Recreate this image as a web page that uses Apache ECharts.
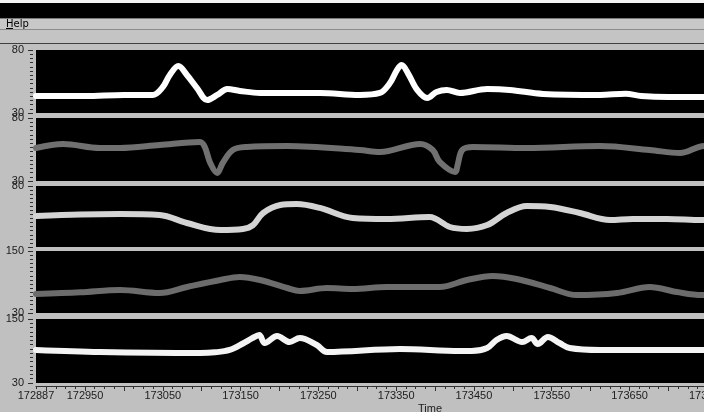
<!DOCTYPE html>
<html><head><meta charset="utf-8">
<script src="https://cdn.jsdelivr.net/npm/echarts@6/dist/echarts.min.js"></script>
<style>html,body{margin:0;padding:0;background:#c0c0c0;overflow:hidden}#c{width:704px;height:412px}</style>
</head><body><div id="c"></div>
<script>
// ---- data ----
const xMin = 172887, xMax = 173900;
const xLabelValues = [172887,172950,173050,173150,173250,173350,173450,173550,173650,173750,173850];
const xMajorTickValues = [172900,172950,173000,173050,173100,173150,173200,173250,173300,173350,173400,173450,173500,173550,173600,173650,173700,173750,173800,173850,173900];
const panelMin = [30,30,30,30,30];
const panelMax = [80,80,80,150,150];
const panelLabelValues = [[30,80],[30,80],[80],[30,150],[30,150]];

const times1 = [172887,172950,173000,173037,173050,173059,173070,173081,173094,173107,173120,173133,173149,173175,173252,173303,173329,173342,173351,173357,173365,173377,173390,173402,173415,173432,173467,173496,173539,173612,173645,173665,173700,173746,173900];
const values1 = [43.5,43.5,44.3,44.3,50.6,60.2,67.3,60.2,49.8,40.3,44.3,49.0,47.5,45.9,45.9,44.3,45.9,53.8,64.1,68.1,61.7,48.3,41.9,46.7,48.3,45.9,49.0,48.3,45.1,44.3,45.3,43.5,42.7,42.7,43.0];

const times2 = [172887,172922,172969,172995,173046,173098,173104,173111,173120,173127,173140,173158,173210,173303,173329,173381,173397,173406,173426,173429,173435,173449,173518,173612,173676,173715,173746,173900];
const values2 = [56.2,59.4,56.2,56.2,58.6,61.0,57.0,44.3,36.3,44.3,54.6,57.0,57.8,54.6,53.0,59.4,54.6,45.1,37.1,42.7,54.6,57.0,56.2,57.8,54.6,52.2,57.8,58.0];

const times3 = [172887,172944,172995,173046,173081,173124,173153,173166,173179,173201,173222,173252,173294,173338,173393,173419,173441,173467,173492,173518,173548,173586,173625,173654,173698,173743,173900];
const values3 = [55.4,56.6,57.0,56.2,49.7,43.9,44.8,48.0,57.9,64.4,65.2,62.0,53.8,53.0,54.6,46.4,44.8,48.0,57.9,63.6,62.8,57.9,52.1,53.0,53.0,52.1,52.0];

const times4 = [172887,172944,172995,173046,173081,173124,173149,173175,173210,173226,173261,173294,173338,173381,173406,173441,173474,173505,173548,173582,173634,173676,173711,173743,173900];
const values4 = [66.8,70.0,74.5,68.7,80.3,93.9,99.7,93.9,78.4,72.6,78.4,76.5,80.3,80.3,80.3,93.9,101.6,95.8,78.4,64.8,68.7,80.3,70.6,64.8,66.0];

const times5 = [172887,172969,173098,173117,173136,173153,173165,173174,173181,173197,173213,173226,173248,173261,173355,173432,173447,173467,173479,173492,173512,173524,173532,173545,173560,173573,173612,173676,173746,173900];
const values5 = [91.9,88.1,86.2,87.5,92.0,104.0,114.0,120.0,105.0,118.1,106.9,114.4,101.2,88.1,93.7,90.0,90.0,95.6,110.6,118.1,106.9,114.4,103.1,116.2,105.0,95.6,91.9,91.9,91.9,92.0];

const allTimes = [times1,times2,times3,times4,times5];
const allValues = [values1,values2,values3,values4,values5];

// ---- layout / style ----
const gridTops = [50,118,186,251,319];
const gridHeights = [63,63,61,62,64];
const lineColors = ['#ffffff','#707070','#d4d4d4','#6c6c6c','#f4f4f4'];
const minorDiv = 15;
const labelFont = {fontFamily:'Liberation Sans, Arial, sans-serif', fontSize:11, color:'#202020'};

const grids = [], xAxes = [], yAxes = [], series = [];
for (let i = 0; i < 5; i++) {
  grids.push({left:36, right:-120, top:gridTops[i], height:gridHeights[i], show:true, backgroundColor:'#000', borderWidth:0, containLabel:false, outerBoundsMode:'none'});
  const isBottom = i === 4;
  xAxes.push({
    type:'value', gridIndex:i, min:xMin, max:xMax, show:isBottom, position:'bottom', offset:3,
    axisLine:{show:true, lineStyle:{color:'#303030', width:1}},
    axisTick:{show:true, customValues:xMajorTickValues, length:5, lineStyle:{color:'#303030'}},
    axisLabel:{show:true, customValues:xLabelValues, margin:4, ...labelFont, formatter:v=>String(v)},
    splitLine:{show:false},
    name: isBottom ? 'Time' : '', nameLocation:'middle', nameGap:17,
    nameTextStyle:{fontFamily:'Liberation Sans, Arial, sans-serif', fontSize:11, color:'#202020'}
  });
  const mn = panelMin[i], mx = panelMax[i];
  yAxes.push({
    type:'value', gridIndex:i, min:mn, max:mx, position:'left', offset:3,
    axisLine:{show:false},
    axisTick:{show:true, customValues:[mn,mx], length:5, lineStyle:{color:'#303030'}},
    axisLabel:{show:true, customValues:panelLabelValues[i], margin:9, ...labelFont, formatter:v=>String(v)},
    splitLine:{show:false}
  });
}
// minor tick overlays
const minorX = [];
for (let v = xMin + 0.5; v <= xMax; v += 12.5) minorX.push(v);
xAxes.push({type:'value', gridIndex:4, min:xMin, max:xMax, position:'bottom', offset:3,
  axisLine:{show:false}, axisLabel:{show:false}, splitLine:{show:false},
  axisTick:{show:true, customValues:minorX, length:3, lineStyle:{color:'#303030'}}});
for (let i = 0; i < 5; i++) {
  const mn = panelMin[i], mx = panelMax[i];
  const vals = [];
  for (let k = 1; k < minorDiv; k++) vals.push(mn + (mx - mn) * k / minorDiv);
  yAxes.push({type:'value', gridIndex:i, min:mn, max:mx, position:'left', offset:3,
    axisLine:{show:false}, axisLabel:{show:false}, splitLine:{show:false},
    axisTick:{show:true, customValues:vals, length:3, lineStyle:{color:'#303030'}}});
}
for (let i = 0; i < 5; i++) {
  series.push({
    type:'line', xAxisIndex:i, yAxisIndex:i, smooth:0.35, showSymbol:false, clip:true,
    lineStyle:{color:lineColors[i], width:6, cap:'round', join:'round'},
    data: allTimes[i].map((t, k) => [t, allValues[i][k]]),
    animation:false
  });
}

const chart = echarts.init(document.getElementById('c'), null, {renderer:'canvas'});
chart.setOption({
  backgroundColor:'#c0c0c0',
  animation:false,
  grid:grids, xAxis:xAxes, yAxis:yAxes, series:series,
  graphic:[
    {type:'rect', shape:{x:0,y:0,width:704,height:3}, style:{fill:'#f4f4f4'}},
    {type:'rect', shape:{x:0,y:3,width:704,height:15}, style:{fill:'#000'}},
    {type:'rect', shape:{x:0,y:18,width:704,height:1}, style:{fill:'#7a7a7a'}},
    {type:'rect', shape:{x:0,y:19,width:704,height:10}, style:{fill:'#c8c8c8'}},
    {type:'text', x:6, y:24, style:{text:'Help', fill:'#000', font:'10px DejaVu Sans, sans-serif', verticalAlign:'middle'}},
    {type:'rect', shape:{x:6,y:28,width:7,height:1}, style:{fill:'#000'}},
    {type:'rect', shape:{x:0,y:29,width:704,height:1}, style:{fill:'#8c8c8c'}},
    {type:'rect', shape:{x:0,y:30,width:704,height:13}, style:{fill:'#c4c4c4'}},
    {type:'rect', shape:{x:0,y:43,width:704,height:1}, style:{fill:'#404040'}}
  ]
});
</script></body></html>
